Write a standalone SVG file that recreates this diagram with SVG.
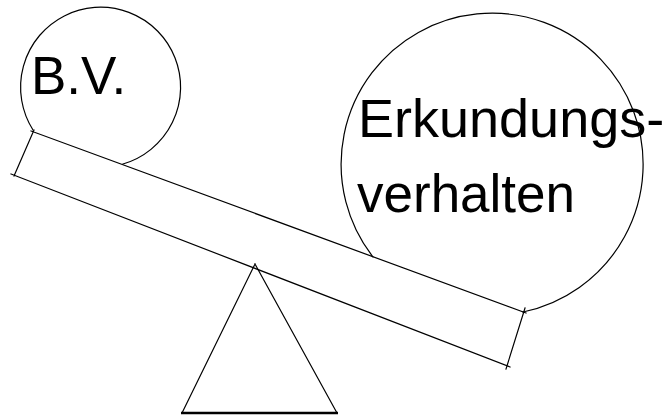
<svg xmlns="http://www.w3.org/2000/svg" width="665" height="417" viewBox="0 0 665 417">
<style>
.l{fill:none;stroke:#000;stroke-width:1.2;stroke-linecap:square}
.t{font-family:"Liberation Sans",Arial,sans-serif;fill:#000}
</style>
<rect width="665" height="417" fill="#fff"/>
<g id="beam">
<path class="l" d="M31,131 L526,313 M34,130 L14,176 M11,174 L510,367 M525,308 L506,369"/>
</g>
<g id="fulcrum">
<path class="l" d="M255,264 L182,413 M255,264 L337,413"/>
<line x1="181" y1="413" x2="338" y2="413" stroke="#000" stroke-width="2.4"/>
</g>
<g id="bv">
<path class="l" d="M33,130 A80,80 0 1 1 123,164"/>
<text class="t" x="31" y="94" font-size="53">B.V.</text>
</g>
<g id="erkundung">
<path class="l" d="M373,257 A151,151 0 1 1 523,312"/>
<text class="t" x="358" y="137" font-size="54">Erkundungs-</text>
<text class="t" x="357" y="212" font-size="53">verhalten</text>
</g>
</svg>
